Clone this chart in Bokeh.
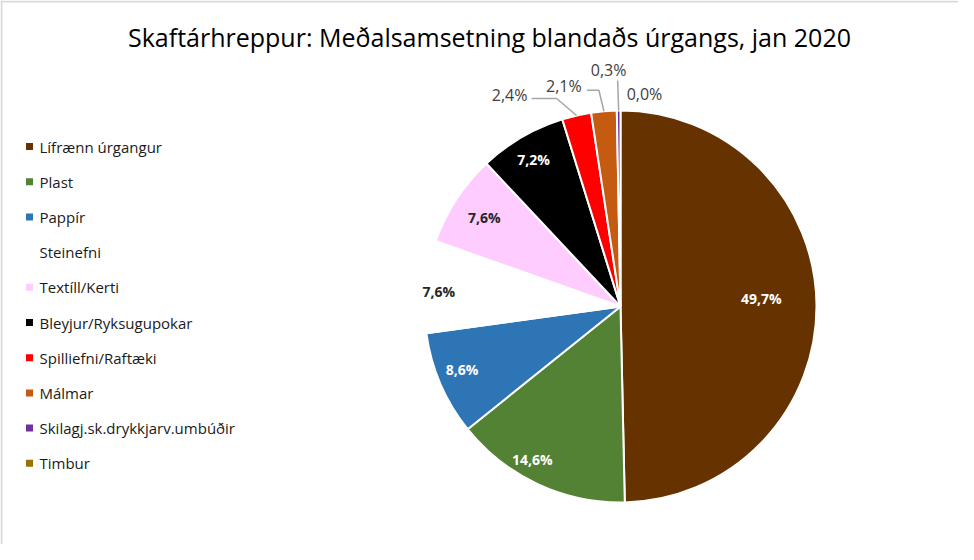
import math
from bokeh.plotting import figure
from bokeh.models import Range1d, Label, Span, ColumnDataSource
from bokeh.core.properties import value
from bokeh.embed import file_html
from bokeh.resources import INLINE

# ---------------- data ----------------
title_text = "Skaftárhreppur: Meðalsamsetning blandaðs úrgangs, jan 2020"
categories = ["Lífrænn úrgangur", "Plast", "Pappír", "Steinefni", "Textíll/Kerti",
              "Bleyjur/Ryksugupokar", "Spilliefni/Raftæki", "Málmar",
              "Skilagj.sk.drykkjarv.umbúðir", "Timbur"]
values = [49.7, 14.6, 8.6, 7.6, 7.6, 7.2, 2.4, 2.1, 0.3, 0.0]
colors = ["#663300", "#548235", "#2E75B6", "#FFFFFF", "#FFCCFF",
          "#000000", "#FF0000", "#C55A11", "#7030A0", "#997300"]

# ---------------- layout / style ----------------
W, H = 958, 544
FONT = "Open Sans"
cx, cy, R = 620, 238, 196          # pie centre and radius (plot units = pixels)

# inside labels: (radius factor, angle tweak in degrees, text colour)
inside_layout = {
    0: (0.72, 2.6, "white"),
    1: (0.90, -5.0, "white"),
    2: (0.87, -1.5, "white"),
    3: (0.93, 1.0, "#262626"),
    4: (0.83, 0.0, "#262626"),
    5: (0.87, 0.4, "white"),
}
# outside labels: label offset from slice edge, leader points offsets (screen px, y down)
outside_layout = {
    6: ((-67, -20), [(-20, -17), (-45, -17)]),
    7: ((-40, -25), [(-5, -21), (-17, -21)]),
    8: ((-10, -41), [(-1, -30)]),
    9: ((24, -17), []),
}

p = figure(width=W, height=H, x_range=Range1d(0, W), y_range=Range1d(0, H),
           min_border=0, toolbar_location=None, output_backend="svg")
p.axis.visible = False
p.grid.visible = False
p.outline_line_color = None
p.background_fill_color = "white"

# frame lines (top and left)
p.add_layout(Span(location=H - 1, dimension="width", line_color="#d9d9d9", line_width=2))
p.add_layout(Span(location=1, dimension="height", line_color="#d9d9d9", line_width=2))

# ---------------- pie ----------------
total = sum(values)
starts, ends, mids = [], [], []
cum = 0.0
for v in values:
    a0 = math.pi / 2 - 2 * math.pi * cum / total
    cum += v
    a1 = math.pi / 2 - 2 * math.pi * cum / total
    starts.append(a0)
    ends.append(a1)
    mids.append((a0 + a1) / 2)

idx = [i for i, v in enumerate(values) if v > 0]
src = ColumnDataSource(dict(
    start=[starts[i] for i in idx], end=[ends[i] for i in idx],
    color=[colors[i] for i in idx]))
p.wedge(x=cx, y=cy, radius=R, start_angle="start", end_angle="end",
        direction="clock", fill_color="color", line_color="white",
        line_width=2, source=src)

def fmt(v):
    return f"{v:.1f}%".replace(".", ",")

# inside labels
for i, (rf, tweak, col) in inside_layout.items():
    a = mids[i] + math.radians(tweak)
    p.text(x=[cx + rf * R * math.cos(a)], y=[cy + rf * R * math.sin(a)],
           text=[fmt(values[i])], text_align="center", text_baseline="middle",
           text_font=value(FONT), text_font_size=value("14px"),
           text_font_style="bold", text_color=col)

# outside labels with leader lines
for i, ((ldx, ldy), pts) in outside_layout.items():
    ex = cx + R * math.cos(mids[i])
    ey = cy + R * math.sin(mids[i])
    p.text(x=[ex + ldx], y=[ey - ldy], text=[fmt(values[i])],
           text_align="center", text_baseline="middle",
           text_font=value(FONT), text_font_size=value("16px"),
           text_color="#404040")
    if pts:
        xs = [ex] + [ex + dx for dx, dy in pts]
        ys = [ey] + [ey - dy for dx, dy in pts]
        p.line(xs, ys, line_color="#a6a6a6", line_width=1.5)

# ---------------- legend ----------------
row0_y, row_step = 398, 35.2
leg_y = [row0_y - k * row_step for k in range(len(categories))]
p.scatter(x=[29] * len(categories), y=leg_y, marker="square", size=7,
          fill_color=colors, line_color=None)
p.text(x=[39] * len(categories), y=leg_y, text=categories,
       text_align="left", text_baseline="middle",
       text_font=value(FONT), text_font_size=value("15px"), text_color="#1a1a1a")

# ---------------- title ----------------
p.add_layout(Label(x=489, y=508, text=title_text, text_align="center",
                   text_baseline="middle", text_font=FONT,
                   text_font_size="25px", text_color="#000000"))

open("out.html", "w").write(file_html(p, INLINE))
